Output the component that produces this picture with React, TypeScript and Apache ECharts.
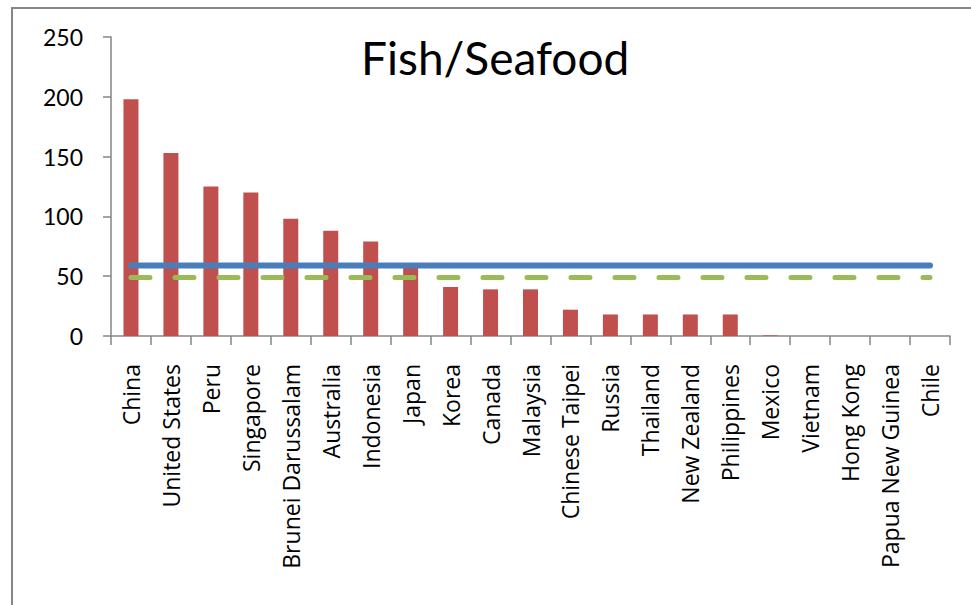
import React, { useEffect, useRef } from "react";
import * as echarts from "echarts";

const categories = [
  "China", "United States", "Peru", "Singapore", "Brunei Darussalam", "Australia",
  "Indonesia", "Japan", "Korea", "Canada", "Malaysia", "Chinese Taipei", "Russia",
  "Thailand", "New Zealand", "Philippines", "Mexico", "Vietnam", "Hong Kong",
  "Papua New Guinea", "Chile",
];

const seafoodValues = [198, 153, 125, 120, 98, 88, 79, 58, 41, 39, 39, 22, 18, 18, 18, 18, 0.5, 0, 0, 0, 0];
const blueLineValues = [59, 59, 59, 59, 59, 59, 59, 59, 59, 59, 59, 59, 59, 59, 59, 59, 59, 59, 59, 59, 59];
const greenLineValues = [49, 49, 49, 49, 49, 49, 49, 49, 49, 49, 49, 49, 49, 49, 49, 49, 49, 49, 49, 49, 49];
const yTicks = { min: 0, max: 250, interval: 50 };

const FONT = "Lato, 'Noto Sans', sans-serif";
const LABEL_FONT = "'Open Sans', 'Noto Sans', sans-serif";

export default function App() {
  const ref = useRef<HTMLDivElement>(null);
  useEffect(() => {
    if (!ref.current) return;
    const chart = echarts.init(ref.current, null, { renderer: "svg" });
    chart.setOption({
      animation: false,
      backgroundColor: "#ffffff",
      title: {
        text: "Fish/Seafood",
        left: 356,
        top: 29,
        textStyle: { fontFamily: FONT, fontSize: 46, fontWeight: "normal", color: "#000" },
      },
      graphic: [
        {
          type: "rect",
          shape: { x: 12, y: 8, width: 1100, height: 1100 },
          style: { fill: "none", stroke: "#878787", lineWidth: 2 },
          silent: true,
        },
      ],
      grid: { left: 111, right: 21, top: 37, bottom: 269, containLabel: false },
      xAxis: {
        type: "category",
        data: categories,
        boundaryGap: true,
        axisLine: { lineStyle: { color: "#868686", width: 1.5 } },
        axisTick: { show: true, length: 9, lineStyle: { color: "#868686", width: 1.5 } },
        axisLabel: {
          rotate: 90,
          interval: 0,
          margin: 28,
          fontFamily: LABEL_FONT,
          fontSize: 23,
          color: "#000",
        },
        splitLine: { show: false },
      },
      yAxis: {
        type: "value",
        min: yTicks.min,
        max: yTicks.max,
        interval: yTicks.interval,
        axisLine: { show: true, lineStyle: { color: "#868686", width: 1.5 } },
        axisTick: { show: true, length: 8, inside: false, lineStyle: { color: "#868686", width: 1.5 } },
        axisLabel: { margin: 28, fontFamily: FONT, fontSize: 23, color: "#000" },
        splitLine: { show: false },
      },
      series: [
        {
          type: "bar",
          data: seafoodValues,
          barWidth: 15,
          itemStyle: { color: "#C0504D" },
          z: 1,
        },
        {
          type: "line",
          data: blueLineValues,
          symbol: "none",
          lineStyle: { color: "#4A7EBB", width: 6, cap: "round" },
          z: 3,
        },
        {
          type: "line",
          data: greenLineValues,
          symbol: "none",
          lineStyle: { color: "#9BBB59", width: 5, type: [19, 25], cap: "round" },
          z: 2,
        },
      ],
    });
    return () => chart.dispose();
  }, []);
  return (
    <div
      ref={ref}
      style={{ position: "fixed", left: 0, top: 0, width: 971, height: 605 }}
    />
  );
}
